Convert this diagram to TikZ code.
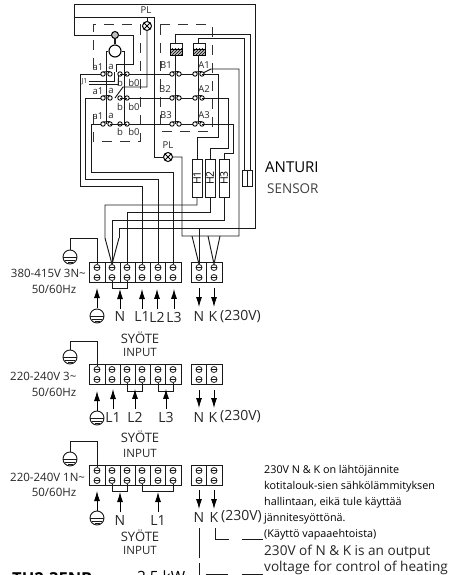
\documentclass[tikz,border=0pt]{standalone}
\usepackage{fontspec}
\setmainfont{Open Sans}
\usetikzlibrary{arrows.meta,patterns}

\tikzset{
  wire/.style={line width=0.95pt,black!90},
  cutline/.style={line width=1pt,black!80,dash pattern=on 10pt off 8pt},
  feed/.style={line width=0.9pt,black,-{Latex[length=10pt,width=6pt]}},
  block/.style={line width=0.9pt,black!90},
  screw/.style={circle,draw=black!90,line width=0.8pt,inner sep=0pt,minimum size=6pt,
    path picture={\draw[line width=0.7pt] (path picture bounding box.west) -- (path picture bounding box.east);}},
  contact/.style={circle,draw=black,line width=0.9pt,fill=white,inner sep=0pt,minimum size=4.4pt},
  lamp/.style={circle,draw=black,line width=1pt,fill=white,inner sep=0pt,minimum size=9pt,
    path picture={\draw[line width=0.8pt] (path picture bounding box.north west) -- (path picture bounding box.south east)
      (path picture bounding box.north east) -- (path picture bounding box.south west);}},
  heater/.style={draw=black!90,line width=0.9pt,minimum width=10pt,minimum height=38pt,inner sep=0pt},
  hatch/.style={line width=0.9pt,preaction={fill=black!25},pattern=north east lines},
  txs/.style={inner sep=0pt,font=\fontsize{9.5}{10}\selectfont,black!85},
  txm/.style={inner sep=0pt,font=\fontsize{11.5}{12}\selectfont,black!85},
  txl/.style={inner sep=0pt,font=\fontsize{13}{14}\selectfont,black!85},
  term/.style={inner sep=0pt,outer ysep=3pt,font=\fontsize{14}{16}\selectfont,black!85},
  outl/.style={inner sep=0pt,outer ysep=4pt,font=\fontsize{14}{16}\selectfont,black!85},
  note/.style={inner sep=0pt,anchor=west,font=\fontsize{10.8}{11}\selectfont,black},
  notel/.style={inner sep=0pt,anchor=west,font=\fontsize{13.6}{14}\selectfont,black!85},
  earth/.pic={
    \draw[wire,fill=white] (0,0) circle (7);
    \draw[wire] (-7,0) -- (7,0) (-5,3) -- (5,3) (-2.5,5.5) -- (2.5,5.5);
  }
}

% one row of terminals, #1 = prefix, #2 = top edge
\newcommand{\termblock}[2]{
  \draw[block] (89,#2) rectangle (181,#2+20);
  \draw[block] (191,#2) rectangle (222,#2+20);
  \foreach \x in {105,120,135,150,165,206} \draw[block] (\x,#2) -- (\x,#2+20);
  \foreach \n/\x in {1/97,2/112,3/127,4/142,5/158,6/173,7/199,8/214} {
    \node[screw] (#1t\n) at (\x,#2+5.5) {};
    \node[screw] (#1b\n) at (\x,#2+15.5) {};
  }
}

\begin{document}
\begin{tikzpicture}[x=1pt,y=-1pt]
  \useasboundingbox (0,0) rectangle (469,575);
  \clip (0,0) rectangle (469,575);

  % frames
  \draw[cutline] (93,68) -- (93,25) -- (140,25) -- (140,141) -- (93,141) -- (93,112);
  \draw[cutline] (160,25) -- (212,25) -- (212,131) -- (160,131) -- cycle;

  % lamps, motor, heaters
  \node[lamp] (pla) at (147,26) {};
  \node[lamp] (plb) at (168,157) {};
  \node[txs] at (146,10) {PL};
  \node[txs] at (168,145) {PL};
  \node[circle,draw=black,line width=1pt,fill=black!25,inner sep=0pt,minimum size=7pt] (brake) at (115,35) {};
  \node[circle,draw=black,line width=1.1pt,inner sep=0pt,minimum size=12pt] (motor) at (115,51) {};
  \node[heater] (h1) at (197,178) {\rotatebox{90}{\fontsize{10.5}{10}\selectfont H1}};
  \node[heater] (h2) at (210,178) {\rotatebox{90}{\fontsize{10.5}{10}\selectfont H2}};
  \node[heater] (h3) at (224,178) {\rotatebox{90}{\fontsize{10.5}{10}\selectfont H3}};
  \node[draw=black!90,line width=0.9pt,minimum width=10pt,minimum height=16pt,inner sep=0pt] (sens) at (247,178) {};
  \draw[wire] (sens.north) -- (sens.south);
  \draw[line width=1.8pt,black!90] (brake) -- (motor);

  % relay coils
  \draw[wire,fill=white] (170,43) rectangle (182,49);
  \draw[hatch] (170,49) rectangle (182,55);
  \draw[wire,fill=white] (193,43) rectangle (205,49);
  \draw[hatch] (193,49) rectangle (205,55);

  % top loop
  \draw[wire] (pla) -- (147,17) (74,17) -- (154,17) -- (154,157) -- (plb);
  \draw[wire] (brake) -- (74,35) -- (74,4) -- (255,4) -- (255,228) -- (119,228) -- (119,238);
  \draw[wire] (brake) -- (133,35) -- (133,64) -- (116,64) -- (116,72);
  \draw[wire] (pla) -- (147,87) -- (123,87) -- (115,98);
  \draw[wire] (motor.west) -- (106,51) -- (106,124);
  \draw[wire] (motor.east) -- (124,51) -- (124,124);
  \draw[wire] (175,55) -- (175,124) (198,55) -- (198,124);
  \draw[wire] (175,43) -- (175,34) -- (250,34) -- (250,170);
  \draw[wire] (198,43) -- (198,38) -- (244,38) -- (244,170);

  % J1 link
  \draw[wire] (89,81) -- (114,81) -- (114,72);
  \draw[wire] (89,84) -- (118,84) -- (118,72);
  \node[txs] at (84.5,82) {\fontsize{7}{8}\selectfont J1};

  % contact rows
  \foreach \y/\xl in {74/80,98/85,124/91} {
    \draw[wire] (\xl,\y) -- (103,\y) (127,\y) -- (172,\y);
    \draw[wire] (179,\y) -- (195,\y);
  }
  \foreach \y in {74,98,124} \foreach \x in {103,110,120,127,172,179,195,202} {
    \node[contact] at (\x,\y) {};
  }
  \foreach \y in {74,98,124} \foreach \x in {103,172,195} {
    \draw[wire] (\x,\y-2) -- (\x+7,\y-2.5);
  }
  \draw[wire] (120,74) -- (127,74) (120,98) -- (127,98) (120,124) -- (127,124);
  \draw[wire] (110,124) -- (120,124);

  % contact labels
  \foreach \y/\d in {67/1,91/2,116/3} {
    \node[txs] at (98,\y) {a1};
    \node[txs] at (111,\y) {a};
  }
  \foreach \y in {83,107,132} {
    \node[txs] at (120,\y) {b};
    \node[txs] at (134,\y) {b0};
  }
  \node[txs] at (166,65) {B1};
  \node[txs] at (204,65) {A1};
  \node[txs] at (165,89) {B2};
  \node[txs] at (204,89) {A2};
  \node[txs] at (166,115) {B3};
  \node[txs] at (204,115) {A3};

  % first terminal block
  \termblock{a}{262}
  \node[txm,anchor=east] at (86,273) {380-415V 3N\textasciitilde};
  \node[txm] at (54,289) {50/60Hz};

  % wires to the first block
  \draw[wire] (80,74) -- (80,186) -- (142,186) -- (at4.north);
  \draw[wire] (85,98) -- (85,179) -- (158,179) -- (at5.north);
  \draw[wire] (91,124) -- (91,172) -- (173,172) -- (at6.north);
  \draw[wire] (h1.south) -- (197,205) -- (105,205) -- (105,238) -- (at2.north);
  \draw[wire] (119,238) -- (at2.north);
  \draw[wire] (h2.south) -- (210,212) -- (127,212) -- (at3.north);
  \draw[wire] (h3.south) -- (224,220) -- (112,220) -- (at2.north);
  \draw[wire] (at7.north) -- (199,228);
  \draw[wire] (plb) -- (182,157) -- (182,236) -- (239,236) -- (239,69) -- (211,69) -- (203,73);
  \draw[wire] (192,236) -- (at7.north);
  \draw[wire] (208,236) -- (at8.north) -- (220,236);
  \draw[wire] (202,74) -- (218,74) -- (218,137) -- (197,137) -- (h1.north);
  \draw[wire] (202,98) -- (228,98) -- (228,148) -- (210,148) -- (h2.north);
  \draw[wire] (202,124) -- (233,124) -- (233,153) -- (224,153) -- (h3.north);

  % earth wires
  \pic at (70,257) {earth};
  \draw[wire] (70,250) -- (70,238) -- (97,238) -- (at1.north);
  \pic at (70,357) {earth};
  \pic at (70,459) {earth};

  % first row of arrows
  \draw[wire] (ab2.south) -- (112,288) -- (127,288) -- (ab3.south);
  \pic at (97,316) {earth};
  \coordinate (ea) at (97,308);
  \draw[feed] (ea) -- ++(0,-20);
  \node[term] (an) at (120,317) {N};
  \node[term] (al1) at (142,317) {L1};
  \node[term] (al2) at (157,317) {L2};
  \node[term] (al3) at (174,317) {L3};
  \node[outl] (aon) at (199,317) {N};
  \node[outl] (aok) at (213,317) {K};
  \node[term,anchor=west] at (220,317) {(230V)};
  \foreach \n in {an,al1,al2,al3} \draw[feed] (\n.north) -- ++(0,-20);
  \foreach \n/\x in {aon/199,aok/214} \draw[feed] (\x,288) -- (\x,307);
  \node[txl] at (140,338) {SYÖTE};
  \node[txm] at (140,352) {INPUT};

  % second terminal block
  \termblock{b}{364}
  \draw[wire] (70,350) -- (70,341) -- (97,341) -- (bt1.north);
  \node[txm,anchor=west] at (10,376) {220-240V 3\textasciitilde};
  \node[txm] at (54,392) {50/60Hz};
  \draw[wire] (bb3.south) -- (127,391) -- (142,391) -- (bb4.south);
  \draw[wire] (bb5.south) -- (158,391) -- (173,391) -- (bb6.south);
  \pic at (97,418) {earth};
  \coordinate (eb) at (97,411);
  \draw[feed] (eb) -- ++(0,-20);
  \node[term] (bl1) at (113,417) {L1};
  \node[term] (bl2) at (135,417) {L2};
  \node[term] (bl3) at (166,417) {L3};
  \node[outl] (bon) at (199,417) {N};
  \node[outl] (bok) at (213,417) {K};
  \node[term,anchor=west] at (220,417) {(230V)};
  \foreach \n in {bl1,bl2,bl3} \draw[feed] (\n.north) -- ++(0,-20);
  \foreach \x in {199,214} \draw[feed] (\x,390) -- (\x,408);
  \node[txl] at (140,437) {SYÖTE};
  \node[txm] at (140,453) {INPUT};

  % third terminal block
  \termblock{c}{465}
  \draw[wire] (70,452) -- (70,441) -- (97,441) -- (ct1.north);
  \node[txm,anchor=west] at (10,477) {220-240V 1N\textasciitilde};
  \node[txm] at (54,492) {50/60Hz};
  \draw[wire] (cb2.south) -- (112,491) -- (127,491) -- (cb3.south);
  \draw[wire] (cb4.south) -- (142,491) -- (173,491) -- (cb6.south);
  \pic at (97,518) {earth};
  \coordinate (ec) at (97,511);
  \draw[feed] (ec) -- ++(0,-20);
  \node[term] (cn) at (120,520) {N};
  \node[term] (cl1) at (158,520) {L1};
  \node[outl] (con) at (199,517) {N};
  \node[outl] (cok) at (214,517) {K};
  \node[term,anchor=west] at (221,517) {(230V)};
  \foreach \n in {cn,cl1} \draw[feed] (\n.north) -- ++(0,-20);
  \foreach \x in {199,214} \draw[feed] (\x,490) -- (\x,509);
  \node[txl] at (140,536) {SYÖTE};
  \node[txm] at (140,550) {INPUT};

  % sensor text
  \node[inner sep=0pt,anchor=west,font=\fontsize{15}{16}\selectfont] at (265,167) {ANTURI};
  \node[inner sep=0pt,anchor=west,font=\fontsize{13.5}{14}\selectfont,black!75] at (267,189) {SENSOR};

  % note
  \node[note] at (264,471) {230V  N \& K on lähtöjännite};
  \node[note] at (264,487) {kotitalouk-sien sähkölämmityksen};
  \node[note] at (264,503) {hallintaan, eikä tule käyttää};
  \node[note] at (264,519) {jännitesyöttönä.};
  \node[note] at (264,535) {(Käyttö vapaaehtoista)};
  \node[notel] at (264,552) {230V of N \& K is an output};
  \node[notel] at (264,568) {voltage for control of heating};
  \draw[wire] (199,528) -- (199,558) (199,563) -- (199,575);
  \draw[wire] (215,528) -- (215,539) -- (229,539);
  \draw[wire] (242,539) -- (263,539);
  \draw[wire] (206,574) -- (228,574) (242,574) -- (263,574);

  % cut off at the page edge
  \node[inner sep=0pt,anchor=west,font=\fontsize{16.5}{17}\selectfont\bfseries] at (12,579) {TH2-3ENB};
  \node[inner sep=0pt,anchor=west,font=\fontsize{15.5}{16}\selectfont] at (137,578) {2,5 kW};
\end{tikzpicture}
\end{document}
